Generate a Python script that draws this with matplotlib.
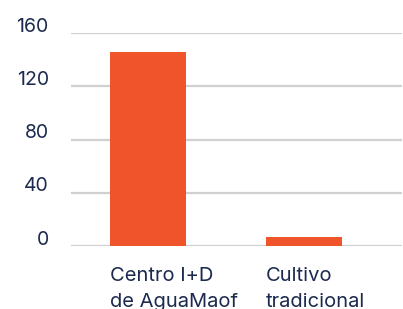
import matplotlib
matplotlib.use("Agg")
import matplotlib.pyplot as plt

categories = ["Centro I+D\nde AguaMaof", "Cultivo\ntradicional"]
values = [146, 7]
yticks = [0, 40, 80, 120, 160]

navy = "#1b2a4e"
orange = "#f0542a"
grid = "#d0d0d0"

plt.rcParams["font.family"] = ["Inter", "DejaVu Sans"]

fig = plt.figure(figsize=(4.03, 3.09), dpi=100)
ax = fig.add_axes([71 / 403, 1 - 246 / 309, 331 / 403, 213 / 309])

w = 0.487
x = list(range(len(categories)))
ax.bar(x, values, width=w, color=orange, zorder=3)

for t in yticks:
    ax.annotate(str(t), xy=(0, t), xycoords=("axes fraction", "data"),
                xytext=(-16, 1), textcoords="offset points",
                ha="right", va="baseline", fontsize=14, color=navy)
    ax.axhline(t, color=grid, lw=1.6, zorder=1)

for i, lab in enumerate(categories):
    ax.annotate(lab, xy=(i - w / 2, 0), xycoords="data",
                xytext=(0, -15), textcoords="offset points",
                ha="left", va="top", fontsize=14.5, color=navy,
                linespacing=1.55)

ax.set_xlim(-0.494, 1.628)
ax.set_ylim(0, 160)
ax.set_xticks([])
ax.set_yticks([])
for s in ax.spines.values():
    s.set_visible(False)

fig.savefig("out.png", dpi=100)
